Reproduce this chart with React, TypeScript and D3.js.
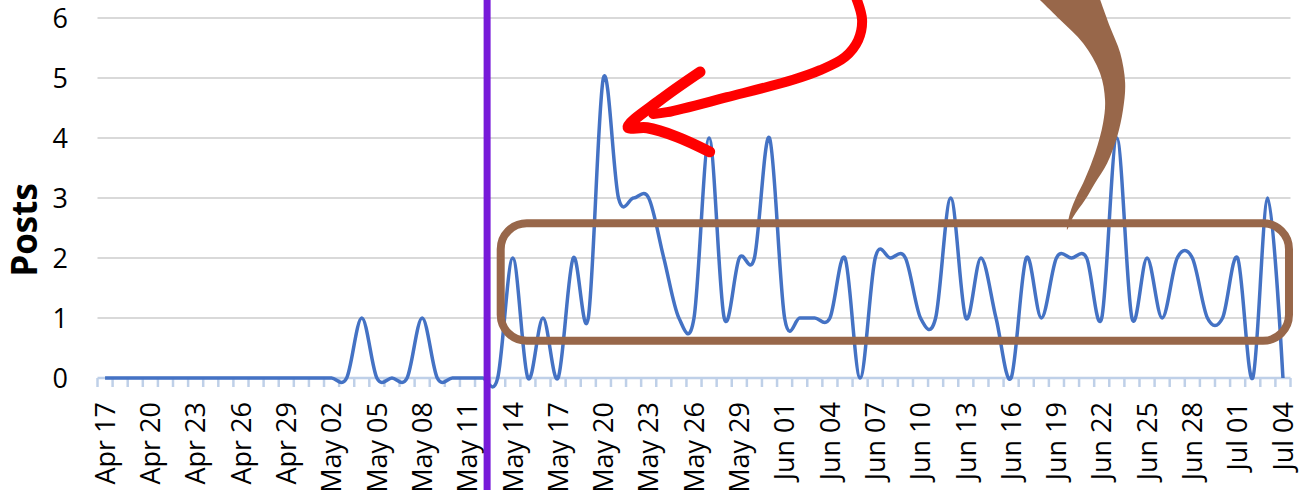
import React from 'react';
import * as d3 from 'd3';

// daily post counts, Apr 17 -> Jul 04
const firstDay = new Date(2020, 3, 17);
const lastDay = new Date(2020, 6, 4);
const days = d3.timeDay.range(firstDay, d3.timeDay.offset(lastDay, 1));

const posts = [
  0, 0, 0, 0, 0, 0, 0, 0, 0, 0, 0, 0, 0, 0, 0, 0, 0,
  1, 0, 0, 0, 1, 0, 0, 0, 0, 0,
  2, 0, 1, 0, 2, 1, 5, 3, 3, 3,
  2, 1, 1, 4, 1, 2, 2, 4, 1, 1,
  1, 1, 2, 0, 2, 2, 2, 1, 1, 3,
  1, 2, 1, 0, 2, 1, 2, 2, 2, 1,
  4, 1, 2, 1, 2, 2, 1, 1, 2, 0,
  3, 0,
];

const yTicks = [0, 1, 2, 3, 4, 5, 6];
const labelEvery = 3;
const fmt = d3.timeFormat('%b %d');

// annotations, in [day index, posts] units
const markerDay = 25.3;
const boxCorners = [[26.2, 2.58], [78.4, 0.62]];
const redShaft = [
  [49.67, 6.38], [50.13, 5.97], [49.87, 5.63], [49.0, 5.35],
  [47.35, 5.13], [45.56, 4.97], [41.19, 4.68], [37.22, 4.43], [36.3, 4.4],
];
const redHead = [
  [39.4, 5.1], [36.75, 4.63], [34.63, 4.18], [35.89, 4.17], [37.87, 4.02], [40.04, 3.77],
];
const brownOuter = [
  [65.76, 6.4], [66.55, 5.85], [67.22, 5.42], [67.55, 4.92], [67.41, 4.47], [67.02, 4.02],
  [66.36, 3.58], [65.56, 3.25], [64.9, 2.97], [64.1, 2.68], [63.7, 2.47],
];
const brownInner = [
  [61.5, 6.4], [63.24, 5.97], [64.77, 5.58], [65.89, 5.08], [66.22, 4.63], [66.09, 4.25],
  [65.56, 3.75], [64.77, 3.25], [64.37, 3.05], [63.9, 2.75],
];

const W = 1309, H = 490;
const font = '"Open Sans", "Liberation Sans", sans-serif';

export default function App() {
  const x = d3.scaleLinear().domain([-0.5, days.length - 0.5]).range([97.5, 1290.5]);
  const y = d3.scaleLinear().domain([0, 6]).range([378, 18]);

  const line = d3.line<number>()
    .x((_, i) => x(i))
    .y(d => y(d))
    .curve(d3.curveCardinal.tension(0));

  const ink = d3.line<number[]>()
    .x(d => x(d[0]))
    .y(d => y(d[1]))
    .curve(d3.curveCatmullRom);

  const crescent = ink([...brownOuter, ...brownInner.slice().reverse()]) + 'Z';

  const bx0 = x(boxCorners[0][0]), by0 = y(boxCorners[0][1]);
  const bx1 = x(boxCorners[1][0]), by1 = y(boxCorners[1][1]);

  const tickIdx = d3.range(days.length + 1);

  return (
    <svg width={W} height={H} style={{ position: 'absolute', left: 0, top: 0, background: '#fff' }}>
      {/* grid */}
      {yTicks.filter(t => t > 0).map(t => (
        <line key={t} x1={x.range()[0]} x2={x.range()[1]} y1={y(t)} y2={y(t)} stroke="#d9d9d9" strokeWidth={2} />
      ))}
      {/* y labels */}
      {yTicks.map(t => (
        <text key={t} x={68} y={y(t)} dy="0.36em" textAnchor="end" fontFamily={font} fontSize={27} fill="#000">{t}</text>
      ))}
      <text transform={`translate(37,230) rotate(-90)`} textAnchor="middle" fontFamily={font} fontWeight="bold" fontSize={35} fill="#000">Posts</text>

      {/* x axis */}
      <line x1={x.range()[0]} x2={x.range()[1]} y1={y(0)} y2={y(0)} stroke="#bfd0e8" strokeWidth={2.5} />
      {tickIdx.map(i => (
        <line key={i} x1={x(i - 0.5)} x2={x(i - 0.5)} y1={y(0)} y2={y(0) + 9} stroke="#bfd0e8" strokeWidth={2.5} />
      ))}
      {days.map((d, i) => i % labelEvery === 0 ? (
        <text key={i} transform={`translate(${x(i)},402) rotate(-90)`} dy="0.36em" textAnchor="end"
          fontFamily={font} fontSize={27} fill="#000">{fmt(d)}</text>
      ) : null)}

      {/* data */}
      <path d={line(posts) || ''} fill="none" stroke="#4472c4" strokeWidth={3.5} strokeLinejoin="round" />

      {/* annotations */}
      <line x1={x(markerDay)} x2={x(markerDay)} y1={0} y2={H} stroke="#7719d9" strokeWidth={7} />
      <rect x={bx0} y={by0} width={bx1 - bx0} height={by1 - by0} rx={26} fill="none" stroke="#98674a" strokeWidth={8} />
      <path d={crescent} fill="#98674a" />
      <path d={ink(redShaft) || ''} fill="none" stroke="#ff0000" strokeWidth={10} strokeLinecap="round" strokeLinejoin="round" />
      <path d={ink(redHead) || ''} fill="none" stroke="#ff0000" strokeWidth={11} strokeLinecap="round" strokeLinejoin="round" />
    </svg>
  );
}
